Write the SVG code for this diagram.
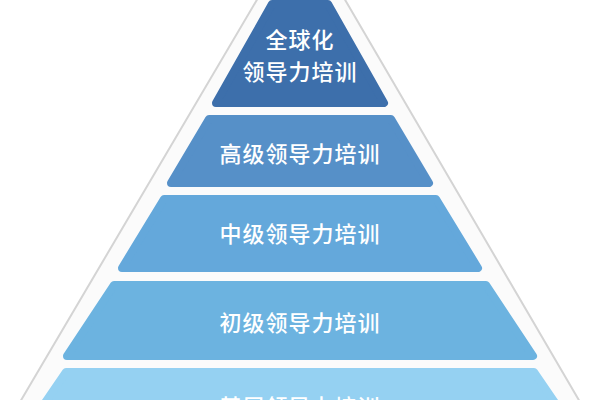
<svg xmlns="http://www.w3.org/2000/svg" width="600" height="400" viewBox="0 0 600 400">
<style>
.t{fill:#fff;font-family:"Noto Sans CJK SC",sans-serif;font-size:22px;font-weight:500;text-anchor:middle;letter-spacing:1px}
.b{stroke-linejoin:round;stroke-width:8}
</style>
<rect width="600" height="400" fill="#fff"/>
<polygon points="258,-2 344,-2 580,402 20,402" fill="#fbfbfb" stroke="#d4d4d4" stroke-width="2"/>
<g id="n1"><polygon class="b" points="272,4 328,4 384,103 216,103" fill="#3d6fab" stroke="#3d6fab"/><text class="t" x="300" y="48">全球化</text><text class="t" x="300" y="80">领导力培训</text></g>
<g id="n2"><polygon class="b" points="209,119 391,119 429,183 171,183" fill="#5690c8" stroke="#5690c8"/><text class="t" x="300" y="162">高级领导力培训</text></g>
<g id="n3"><polygon class="b" points="164,199 436,199 478,268 122,268" fill="#64a8db" stroke="#64a8db"/><text class="t" x="300" y="242">中级领导力培训</text></g>
<g id="n4"><polygon class="b" points="114,285 486,285 533,356 67,356" fill="#6cb3e0" stroke="#6cb3e0"/><text class="t" x="300" y="331">初级领导力培训</text></g>
<g id="n5"><polygon class="b" points="66,372 534,372 560,410 40,410" fill="#95d1f2" stroke="#95d1f2"/><text class="t" x="300" y="415">基层领导力培训</text></g>
<g id="connectors"/>
</svg>
